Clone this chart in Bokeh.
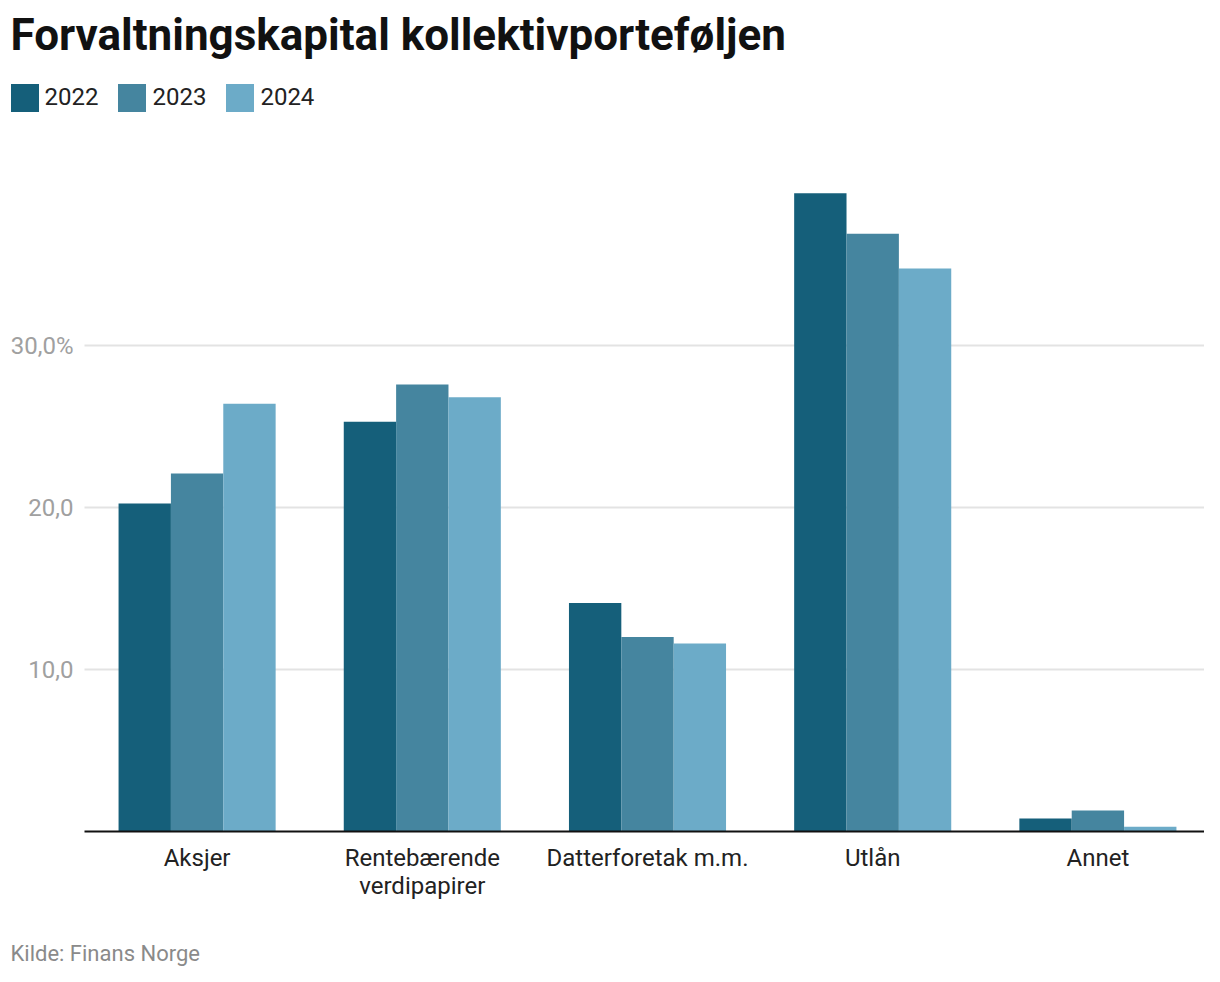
from bokeh.plotting import figure
from bokeh.models import ColumnDataSource, Range1d, FixedTicker, Legend, LegendItem, Label
from bokeh.transform import dodge
from bokeh.embed import file_html
from bokeh.resources import INLINE

categories = ["Aksjer", "Rentebærende\nverdipapirer", "Datterforetak m.m.", "Utlån", "Annet"]
years = ["2022", "2023", "2024"]
v2022 = [20.25, 25.3, 14.1, 39.4, 0.8]
v2023 = [22.1, 27.6, 12.0, 36.9, 1.3]
v2024 = [26.4, 26.8, 11.6, 34.75, 0.3]
y_ticks = [10, 20, 30]
y_tick_labels = ["10,0", "20,0", "30,0%"]
title_text = "Forvaltningskapital kollektivporteføljen"
source_text = "Kilde: Finans Norge"

colors = ["#155f7a", "#45859f", "#6cabc8"]
FONT = "Roboto"

W, H = 1204, 966
# layout (page pixels): plot area from x=84, zero line at y=831, 16.2 px per unit, 225.2 px per category
PX_LEFT, PX_ZERO, PX_UNIT, PX_CAT = 84, 831, 16.2, 225.2

n = len(categories)
xpos = [i + 0.5 for i in range(n)]
src = ColumnDataSource(dict(x=xpos, v2022=v2022, v2023=v2023, v2024=v2024))

p = figure(width=W, height=H, output_backend="svg", toolbar_location=None,
           x_range=Range1d(-PX_LEFT / PX_CAT, (W - PX_LEFT) / PX_CAT),
           y_range=Range1d(-(H - PX_ZERO) / PX_UNIT, PX_ZERO / PX_UNIT),
           min_border_left=0, min_border_right=0, min_border_top=0, min_border_bottom=0)
p.title.text = ""
p.outline_line_color = None
p.background_fill_color = "white"
p.border_fill_color = "white"

bw = 0.2325
renderers = []
for i, (yr, col) in enumerate(zip(years, colors)):
    r = p.vbar(x=dodge("x", (i - 1) * bw), top="v" + yr, width=bw,
               source=src, fill_color=col, line_color=None)
    renderers.append((yr, r))

# x axis drawn at y=0 inside the frame
xa = p.xaxis[0]
xa.fixed_location = 0
xa.ticker = FixedTicker(ticks=xpos)
xa.major_label_overrides = {x: c for x, c in zip(xpos, categories)}
xa.bounds = (0, n)
xa.axis_line_color = "#111111"
xa.axis_line_width = 2
xa.major_tick_line_color = None
xa.minor_tick_line_color = None
xa.major_tick_out = 0
xa.major_tick_in = 0
xa.major_label_text_font = FONT
xa.major_label_text_font_size = "24px"
xa.major_label_text_color = "#222222"
xa.major_label_text_line_height = 1.0
xa.major_label_standoff = 12
p.xgrid.visible = False

# y axis drawn at x=0 inside the frame
ya = p.yaxis[0]
ya.fixed_location = 0
ya.ticker = FixedTicker(ticks=y_ticks)
ya.major_label_overrides = {t: l for t, l in zip(y_ticks, y_tick_labels)}
ya.axis_line_color = None
ya.major_tick_line_color = None
ya.minor_tick_line_color = None
ya.major_tick_out = 0
ya.major_tick_in = 0
ya.major_label_text_font = FONT
ya.major_label_text_font_size = "24px"
ya.major_label_text_color = "#a0a0a0"
ya.major_label_standoff = 11
p.ygrid.grid_line_color = "#e3e3e3"
p.ygrid.grid_line_width = 2
p.ygrid.cross_bounds = (0, n)

# title and source (screen units, frame = whole canvas)
p.add_layout(Label(x=10, y=H - 34.5, x_units="screen", y_units="screen", text=title_text,
                   text_font=FONT, text_font_style="bold", text_font_size="44px",
                   text_color="#111111", text_baseline="alphabetic"))
p.add_layout(Label(x=10, y=H - 953, x_units="screen", y_units="screen", text=source_text,
                   text_font=FONT, text_font_size="22px", text_color="#8a8a8a",
                   text_baseline="alphabetic"))

GW = 35  # Bokeh insets legend squares by 10% per side -> 28px squares
legend = Legend(items=[LegendItem(label=yr, renderers=[r]) for yr, r in renderers],
                location=(6.5, H - 114.5), orientation="horizontal",
                glyph_width=GW, glyph_height=GW, label_text_font=FONT,
                label_text_font_size="24px", label_text_color="#222222",
                label_standoff=3, spacing=16, padding=0, margin=0,
                border_line_color=None, background_fill_alpha=0)
p.add_layout(legend, "center")

open("out.html", "w").write(file_html(p, INLINE))
